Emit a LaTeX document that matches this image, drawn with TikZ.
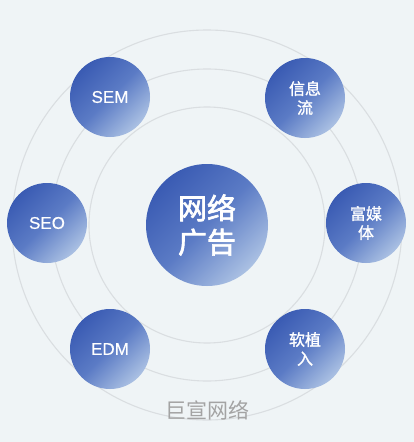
\documentclass[tikz,border=0pt]{standalone}
\usepackage{fontspec}
\setmainfont{Noto Sans CJK SC}
\newfontfamily\medfont[FakeBold=1.2]{Noto Sans CJK SC}
\newfontfamily\hubfont[FakeBold=2.2]{Noto Sans CJK SC}
\newfontfamily\latinfont[FakeBold=0.4]{Liberation Sans}
\definecolor{bgc}{HTML}{EFF4F6}
\definecolor{ringc}{HTML}{DADEE1}
\definecolor{bdark}{HTML}{3A5BB3}
\definecolor{bmid}{HTML}{5B7BC5}
\definecolor{blight}{HTML}{ABC1E3}
\definecolor{wmark}{HTML}{A3A3A3}
\tikzset{
  ring/.style={draw=ringc, line width=1.1pt},
  bub/.style={circle, minimum size=80pt, inner sep=0pt,
    top color=bdark, bottom color=blight, middle color=bmid, shading angle=45,
    text=white, font=\medfont\fontsize{16}{19}\selectfont, align=center},
  latinbub/.style={bub, font=\latinfont\fontsize{17}{19}\selectfont},
  hub/.style={bub, minimum size=122pt, font=\hubfont\fontsize{29}{34}\selectfont},
  wmtext/.style={text=wmark, font=\fontsize{21}{24}\selectfont}
}
\begin{document}
\begin{tikzpicture}[x=1pt,y=-1pt]
\fill[bgc] (0,0) rectangle (414,442);
\useasboundingbox (0,0) rectangle (414,442);
\coordinate (c) at (207,225);
\draw[ring] (c) circle (195pt);
\draw[ring] (c) circle (156pt);
\draw[ring] (c) circle (118pt);
\node[hub] (hubnode) at (c) {网络\\广告};
\node[latinbub] (sem) at (110,97) {SEM};
\node[bub] (xxl) at (305,98) {信息\\流};
\node[latinbub] (seo) at (47,223) {SEO};
\node[bub] (fmt) at (366,223) {富媒\\体};
\node[latinbub] (edm) at (110,349) {EDM};
\node[bub] (rzr) at (305,349) {软植\\入};
\node[wmtext] (wm) at (207,410) {巨宣网络};
\end{tikzpicture}
\end{document}
